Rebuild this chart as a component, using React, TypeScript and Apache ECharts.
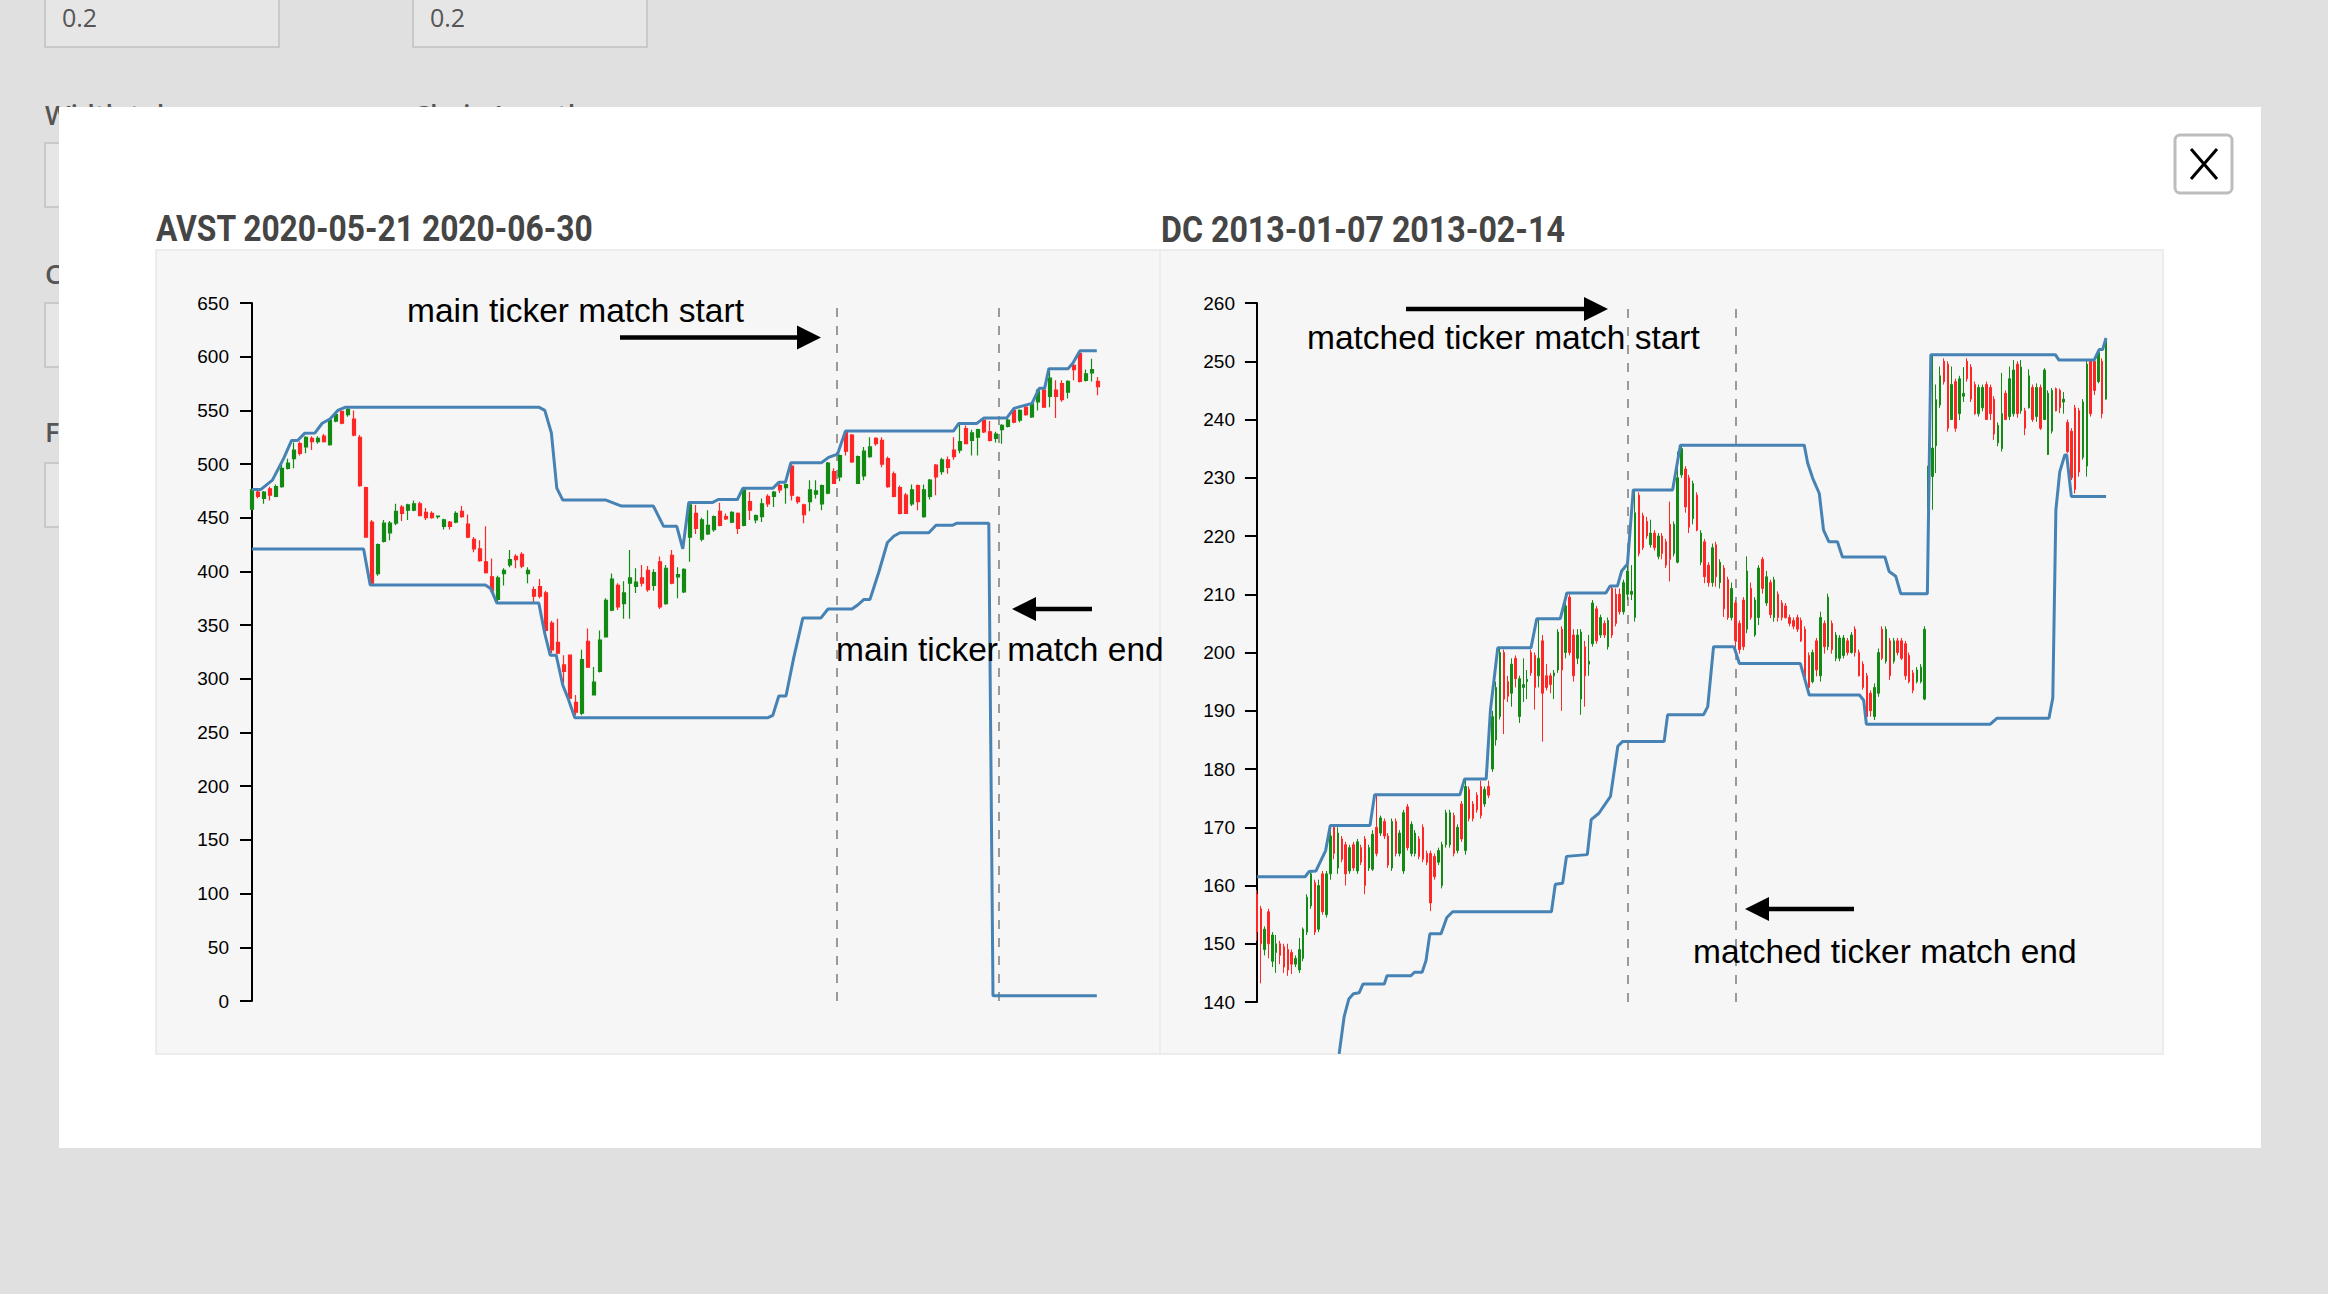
import { useEffect, useRef } from 'react';
import * as echarts from 'echarts';

// AVST daily candles: [open, close, low, high]
const avstCandles: number[][] = [
  [458, 476, 457, 477], [474, 470, 468, 476], [468, 474, 463, 475], [477, 471, 466, 479],
  [470, 479, 469, 481], [479, 496, 478, 501], [496, 501, 495, 505], [505, 513, 496, 520],
  [519, 510, 508, 521], [516, 525, 510, 526], [524, 521, 513, 526], [521, 524, 519, 526],
  [526, 521, 520, 528], [518, 541, 517, 543], [540, 546, 539, 549], [549, 538, 537, 550],
  [546, 551, 544, 553], [542, 527, 526, 550], [525, 480, 479, 527], [478, 432, 432, 479],
  [446, 389, 388, 448], [398, 425, 396, 426], [428, 445, 427, 448], [436, 445, 429, 447],
  [445, 456, 443, 463], [460, 454, 447, 462], [457, 462, 448, 463], [457, 463, 456, 466],
  [463, 452, 452, 465], [455, 450, 448, 459], [454, 450, 449, 456], [451, 451.5, 449, 452],
  [442, 448, 439, 449], [446, 442, 439, 447], [446, 454, 445, 456], [456, 451, 450, 461],
  [444, 432, 431, 453], [430, 421, 418, 432], [421, 410, 409, 429], [409, 399, 398, 442],
  [395, 382, 380, 412], [374, 394, 370, 396], [398, 401, 387, 403], [406, 411, 404, 420],
  [414, 411, 403, 416], [416, 405, 403, 418], [398, 401, 389, 404], [383, 377, 370, 386],
  [386, 377, 375, 393], [380, 345, 341, 382], [352, 327, 324, 354], [334, 324, 323, 356],
  [313, 307, 296, 322], [322, 282, 281, 322], [278, 269, 266, 285], [268, 318, 266, 327],
  [335, 311, 310, 347], [285, 297, 285, 311], [307, 336, 306, 345], [339, 373, 339, 375],
  [364, 393, 363, 398], [387, 367, 364, 389], [370, 380, 356, 391], [389, 394, 356, 420],
  [386, 390, 380, 403], [394, 389, 386, 406], [401, 383, 381, 405], [387, 399, 382, 402],
  [409, 367, 365, 414], [370, 403, 369, 406], [415, 389, 388, 420], [395, 397, 375, 404],
  [381, 402, 380, 403], [432, 462, 409, 463], [454, 440, 435, 462], [430, 448, 428, 450],
  [435, 443, 434, 457], [439, 451, 437, 452], [456, 443, 442, 464], [451, 449, 448, 454],
  [446, 455, 445, 456], [454, 440, 435, 455], [443, 476, 442, 477], [465, 457, 448, 474],
  [448, 452, 445, 453], [451, 463, 446, 468], [470, 463, 460, 472], [470, 474, 460, 475],
  [480, 476, 473, 482], [478, 481, 463, 482], [498, 471, 466, 500], [469, 465, 463, 470],
  [462, 453, 445, 463], [465, 476, 456, 485], [472, 475, 468, 485], [463, 480, 457, 481],
  [473, 501, 472, 502], [493, 482, 482, 496], [488, 508, 484, 509], [530, 512, 508, 531],
  [527, 502, 501, 528], [482, 507, 482, 508], [489, 512, 485, 516], [507, 516, 506, 525],
  [524, 519, 517, 525], [522, 500, 497, 525], [505, 479, 478, 507], [491, 470, 469, 493],
  [478, 454, 453, 480], [471, 454, 454, 473], [463, 476, 461, 481], [480, 465, 457, 481],
  [451, 476, 450, 481], [470, 485, 467, 486], [499, 488, 471, 500], [493, 504, 490, 506],
  [504, 497, 491, 507], [513, 507, 504, 525], [513, 521, 510, 538], [533, 519, 519, 536],
  [522, 529, 508, 532], [525, 532, 508, 533], [541, 530, 529, 543], [530, 522, 521, 540],
  [524, 528, 520, 530], [532, 536, 519, 537], [535, 541, 534, 543], [550, 539, 538, 552],
  [541, 550, 539, 551], [553, 546, 545, 555], [544, 556, 543, 557], [558, 569, 550, 570],
  [569, 553, 553, 570], [563, 580, 553, 587], [569, 563, 543, 578], [575, 560, 558, 578],
  [567, 577, 561, 578], [592, 588, 578, 594], [603, 577, 576, 604], [578, 584, 577, 588],
  [585, 588, 577, 598], [577, 572, 564, 581],
];

// channel lines as [candle index, price]
const avstUpper: number[][] = [
  [0, 476.4], [1.5, 476.4], [3.4, 485], [5.3, 505.6], [6.6, 522], [7.6, 522], [8.8, 528.8],
  [10.5, 529], [11.7, 538], [13, 542], [14.3, 550], [15.6, 553], [47.8, 553], [48.8, 550],
  [49.9, 528.9], [50.8, 477.6], [51.8, 466.5], [59, 466.5], [61.6, 460.9], [66.9, 460.9],
  [68.6, 442], [70.8, 442], [71.8, 421], [72.8, 464.3], [76.8, 464.3], [77.7, 467], [80.9, 467],
  [81.8, 477.4], [86.8, 477.4], [87.8, 483], [88.9, 483], [89.8, 501.2], [94.9, 501.2],
  [96.1, 506.2], [97.6, 509.3], [98.9, 530.7], [116.9, 530.7], [117.8, 537.9], [120.8, 537.9],
  [122, 543], [125.8, 543], [127, 551.9], [130, 556.5], [131.2, 570.5], [132.1, 570.5],
  [132.8, 588.8], [136, 588.8], [136.8, 593.8], [138, 605.5], [140.8, 605.5],
];
const avstLower: number[][] = [
  [0, 420.9], [18.6, 420.9], [19.7, 387.3], [38.9, 387.3], [39.8, 384], [40.8, 370.6],
  [47.8, 370.6], [48.8, 342], [49.7, 322], [50.7, 322], [51.8, 294], [52.6, 283], [53.8, 263.8],
  [86, 263.8], [86.8, 266], [87.8, 284], [89, 284], [90.3, 320], [91.8, 356.6], [94.8, 356.6],
  [96, 365], [100, 365], [101, 369], [102, 374], [103, 374], [104.5, 400], [105.9, 427],
  [107, 433], [108, 436], [112.8, 436], [114, 443], [116.7, 443], [117.5, 445], [122.8, 445],
  [123.5, 5], [140.8, 5],
];
const avstMatch = [97.5, 124.5];
const avstTicks = { min: 0, max: 650, step: 50 };

// DC daily candles: [open, close, low, high]
const dcCandles: number[][] = [
  [158.5, 152, 150.5, 159.2], [156, 150, 143.2, 156.5], [149, 152.5, 148, 153], [155.5, 150, 147.5, 156],
  [147, 151.5, 146, 152], [148.5, 150, 145, 151.5], [150, 148, 146.5, 150.5], [149.5, 146, 145, 150],
  [149, 145.5, 144.5, 150], [148.5, 146.5, 144.8, 149], [146.5, 147.5, 146, 148], [145.5, 149, 145, 151],
  [147.5, 152.5, 147, 152.8], [152, 158, 151.5, 158.5], [156.5, 162, 156, 162.4], [160.5, 152, 151.5, 161],
  [152.5, 160, 152, 161], [162, 155.5, 155, 162.5], [155, 162, 154.5, 162.5], [162, 168.5, 161, 170.3],
  [170, 165.5, 164.5, 170.2], [163, 169, 162, 170], [168, 164.5, 164, 168.5], [167, 162, 160, 167.5],
  [162.5, 166.5, 162, 167], [167, 163, 162.5, 167.5], [162.5, 167.5, 162, 168], [166.5, 164, 163.5, 167],
  [168, 160, 158.5, 168.5], [163, 166.5, 162.5, 167], [162.8, 168.8, 162.5, 169.5], [170, 165.5, 165, 175.6],
  [169, 171.6, 168.5, 172], [171, 168.5, 168, 171.5], [168.5, 163.5, 163, 169], [163, 171, 162.5, 171.5],
  [171, 165.5, 165, 171.5], [165.5, 169, 165, 169.5], [162.5, 172.5, 162, 173], [173.5, 166.5, 166, 174],
  [165.5, 170.5, 165, 171], [165.5, 169, 165, 169.5], [168, 165, 164.5, 168.5], [170, 164.5, 164, 170.5],
  [165.5, 164, 163.5, 166], [165.5, 157, 155.6, 166], [165, 161.5, 161, 165.5], [164, 166, 163.5, 166.5],
  [160, 167, 159.5, 167.5], [167, 172.5, 166.5, 173], [167, 172.5, 166.5, 173], [172, 165.5, 165, 172.5],
  [166, 170, 165.5, 170.5], [174, 168, 167.5, 174.5], [166, 177, 165.3, 178.2], [176.5, 171.5, 171, 177],
  [174, 171.5, 171, 174.5], [175.5, 173, 172.5, 176], [177, 172, 171.5, 178], [174, 176.5, 173.5, 177],
  [177, 175.5, 175, 178], [180, 189, 179.5, 190], [185, 194, 184, 195], [189, 200, 188.5, 200.8],
  [200, 192, 186, 200.5], [195, 192.5, 191.5, 196], [193, 198, 190.7, 199], [199, 195.5, 194, 199.5],
  [189, 195.5, 187.9, 196], [194, 194.5, 191.5, 199], [195, 195.4, 192, 197], [200, 196.5, 196, 200.5],
  [199.5, 194, 190.2, 200], [196, 199, 194, 205.8], [202, 193, 184.7, 203], [196, 194, 193.5, 198],
  [196, 194.5, 193, 196.5], [196, 196.5, 192, 197], [197, 203.5, 196.5, 204], [204, 197, 190, 204.5],
  [200, 208, 199, 210.2], [209.5, 200, 199.5, 210], [203, 196, 195, 204], [199, 203, 198, 204],
  [192, 203.5, 189.3, 204], [201, 196, 190.7, 202], [198, 198.5, 196, 203], [201.5, 208.5, 201, 209],
  [207.5, 202, 201.5, 208], [203, 206, 202.5, 206.5], [205, 203, 202.5, 205.5], [201, 205.5, 200.5, 206],
  [211, 203, 202.5, 211.4], [210, 205, 204.5, 211], [210, 207, 206.5, 211], [207, 212, 206.5, 212.5],
  [210, 214, 209, 215.2], [210, 210.5, 209, 215], [206, 224, 205.3, 227.9], [227, 217, 216.5, 227.5],
  [223.5, 218, 217.6, 224], [222.5, 220, 219.5, 223.3], [218.5, 220.5, 218, 222.8], [220.5, 218, 217.5, 221],
  [216.5, 220, 216, 220.5], [220, 217, 216, 220.5], [219, 215, 214.5, 219.5], [222, 216, 212.2, 225.9],
  [217, 222, 216.5, 222.5], [215.5, 230, 215.3, 234.5], [230.5, 235, 230, 235.6], [231.5, 225, 224, 232],
  [230, 221.5, 220.5, 230.5], [223, 229, 222, 229.5], [227, 221, 220.8, 227.5], [215.5, 220.5, 215, 221],
  [219, 213, 211.9, 219.5], [215, 212, 211.3, 215.5], [212, 218, 211.3, 218.7], [218.5, 213, 211.3, 219],
  [212, 215.5, 211, 216], [214.5, 207.5, 206.1, 215], [212.5, 206, 205.6, 213], [206, 211, 205.5, 212],
  [208.5, 202, 200.4, 209], [205, 200.5, 199.8, 205.5], [209, 201, 200.4, 209.5], [204, 214, 203.3, 216.5],
  [211, 206, 205.6, 212], [203, 209, 202.7, 209.5], [206, 214.5, 204.7, 215], [216, 211, 210.1, 216.4],
  [208.5, 213, 208, 214], [212, 206.5, 205.9, 212.5], [206, 212.5, 205.3, 213], [210, 206, 205.3, 210.5],
  [208.5, 206, 205.5, 209], [208, 206, 205.8, 208.5], [206, 205, 204.5, 206.5], [205.5, 204.5, 204, 206],
  [206, 204, 203.5, 206.5], [205.5, 202, 201.8, 206], [204, 195.5, 195, 204.5], [199.5, 194, 193, 200],
  [195, 200, 194.7, 200.5], [202, 197, 195.9, 202.5], [196, 206, 195, 207], [205, 201, 199.8, 205.5],
  [201, 209.5, 200.4, 210.1], [205, 200.5, 199.8, 205.5], [199, 203, 198.5, 203.5], [199, 202.5, 198.5, 203],
  [199.5, 202.5, 199, 203], [202, 200, 199.5, 202.5], [200, 203, 199.8, 203.5], [204, 200, 199.3, 204.5],
  [200, 196, 195.9, 200.5], [198, 194, 193.6, 198.5], [196, 189, 188.1, 196.5], [193, 190, 189, 193.5],
  [189, 194, 188.4, 194.7], [193, 200, 192.4, 200.7], [204, 199, 198.7, 204.5], [198.5, 204, 198.1, 204.5],
  [202, 196, 195.3, 202.5], [198.5, 202, 198.1, 202.5], [202, 200, 199.5, 202.5], [202, 199, 198.7, 202.5],
  [201.5, 196, 195.3, 202], [199.5, 195, 194.7, 200], [196.5, 193.5, 193, 197], [195, 197, 194.7, 197.5],
  [195, 197.5, 194.7, 198], [192, 204, 191.8, 204.5], [224.5, 232, 224.2, 236], [230.2, 235.1, 224.5, 251],
  [235.5, 243.4, 230.8, 246], [242.5, 247.5, 242, 249.1], [250, 246.5, 246, 250.5], [249.5, 238.5, 237.9, 250],
  [240, 246, 239.9, 249.1], [246.5, 238.5, 237.9, 247], [241, 247, 239.9, 247.5], [244, 244.5, 243, 249],
  [250, 247, 246.5, 250.5], [249, 243.5, 243, 249.5], [246, 241, 240.8, 246.5], [241, 245.5, 240.5, 246],
  [242, 245.5, 241.4, 246], [246, 240, 239.9, 246.5], [245.5, 241, 239.9, 246], [243.5, 237.5, 236.5, 244],
  [236, 239, 235.4, 239.5], [235, 241, 234.5, 248], [244.5, 240, 239.9, 245], [240.5, 247, 239.9, 249.1],
  [241, 248.5, 240.5, 250.2], [249.5, 241, 240.3, 250], [241.5, 249, 241, 250.2], [241.5, 238.5, 237.3, 242],
  [242, 247.5, 241.9, 248.6], [245.5, 240, 239.6, 246], [240.5, 245.5, 239.6, 246.2], [245.5, 238.5, 238.2, 246],
  [240, 248.5, 239.9, 248.8], [234, 244.5, 233.9, 245], [238, 245, 237.6, 245.4], [245.3, 241.5, 241.4, 245.5],
  [245, 242, 241.1, 245.3], [243, 243.5, 241, 244.7], [239.5, 234.5, 234.2, 240], [238, 230, 229.6, 238.5],
  [242, 228, 227.3, 242.5], [241.5, 231, 230.2, 242], [233.5, 243, 233.1, 243.5], [232, 249.5, 230.2, 250.2],
  [250, 241, 240.5, 250.2], [250, 245, 244.2, 250.2], [246.5, 251.5, 246.2, 252], [250, 241, 240.2, 250.5],
  [243.5, 253.5, 243.4, 254],
];
const dcUpper: number[][] = [
  [0, 161.5], [12.5, 161.5], [13.5, 162.4], [15.3, 162.5], [16, 163.5], [17.8, 166], [19, 170.3],
  [29.3, 170.3], [30.5, 175.6], [52.6, 175.6], [53.8, 178.3], [59.4, 178.3], [60.5, 190.1],
  [62.4, 200.8], [71, 200.8], [72.5, 205.8], [78.6, 205.8], [80.3, 210.2], [90.4, 210.2],
  [91.5, 211.4], [93.4, 211.4], [94.5, 214], [96, 215.2], [97.5, 227.9], [107.7, 227.9],
  [109.7, 235.6], [141.8, 235.6], [142.7, 232.5], [144, 229.9], [145.7, 227.3], [146.8, 221],
  [148.2, 219], [150.4, 219], [151.7, 216.4], [162.7, 216.4], [163.8, 213.9], [165.5, 213.1],
  [166.8, 210.1], [173.7, 210.1], [174.6, 251.1], [206.9, 251.1], [207.8, 250.2], [216.9, 250.2],
  [218.2, 252], [219.1, 252], [220, 254],
];
const dcLower: number[][] = [
  [21.3, 131.1], [22.6, 137.5], [23.8, 140.5], [25, 141.4], [26.5, 141.6], [27.5, 143.1],
  [33, 143.1], [33.7, 144.5], [39.9, 144.5], [40.8, 145.1], [42.8, 145.1], [43.8, 147.1],
  [44.8, 151.7], [47.7, 151.7], [49.2, 154.5], [50.7, 155.5], [76.3, 155.5], [77.3, 160.2],
  [79.2, 160.4], [80.2, 165], [85.6, 165.3], [86.6, 171.3], [88.6, 172.4], [91.6, 175.3],
  [93.5, 183.9], [94.7, 184.7], [105.5, 184.7], [106.4, 189.3], [115.7, 189.3], [116.8, 190.7],
  [118.3, 201], [123.6, 201], [125, 198.1], [140.8, 198.1], [143.1, 192.7], [156.1, 192.7],
  [157.2, 191.8], [157.9, 187.7], [190, 187.7], [191.7, 188.7], [205.2, 188.7], [206.2, 192.2],
  [207, 224.5], [208, 231], [209.3, 233.9], [209.8, 233.9], [211, 226.8], [220, 226.8],
];
const dcMatch = [96.1, 124.1];
const dcTicks = { min: 140, max: 260, step: 10 };

const avstTitle = 'AVST 2020-05-21 2020-06-30';
const dcTitle = 'DC 2013-01-07 2013-02-14';

const SANS = '"Liberation Sans", Arial, Helvetica, sans-serif';
const TITLE = 'Roboto, "Noto Sans", sans-serif';
const UI = '"Open Sans", Lato, sans-serif';
const UP = '#138a13';
const DOWN = '#ff2626';
const CHANNEL = '#4682b4';

function text(x: number, y: number, t: string, size: number, fill: string, family: string, weight = 'normal', z = 1, scaleX = 1) {
  return {
    type: 'text', x, y, z, scaleX,
    style: {
      text: t, fill, fontSize: size, fontFamily: family, fontWeight: weight,
      align: 'left', verticalAlign: 'middle', textAlign: 'left', textVerticalAlign: 'middle',
    },
  };
}

function rect(x: number, y: number, w: number, h: number, fill: string, stroke?: string, lw = 0, z = 1, r = 0) {
  return {
    type: 'rect', z,
    shape: { x, y, width: w, height: h, r },
    style: { fill, stroke: stroke || 'none', lineWidth: lw },
  };
}

function arrow(tail: number, tip: number, y: number) {
  const dir = tip > tail ? 1 : -1;
  const base = tip - dir * 24;
  return [
    { type: 'line', z: 20, shape: { x1: tail, y1: y, x2: base + dir * 2, y2: y }, style: { stroke: '#000', lineWidth: 4.5 } },
    { type: 'polygon', z: 20, shape: { points: [[base, y - 12], [tip, y], [base, y + 12]] }, style: { fill: '#000' } },
  ];
}

function yAxisFor(gridIndex: number, t: { min: number; max: number; step: number }) {
  return {
    type: 'value', gridIndex, min: t.min, max: t.max, interval: t.step, z: 10,
    axisLine: { show: true, lineStyle: { color: '#000', width: 2 } },
    axisTick: { show: true, length: 12, lineStyle: { color: '#000', width: 2 } },
    axisLabel: { margin: 20, fontSize: 19, color: '#000', fontFamily: SANS },
    splitLine: { show: false },
  };
}

function candleSeries(idx: number, data: number[][], width: number, border: number) {
  return {
    type: 'candlestick', xAxisIndex: idx * 2, yAxisIndex: idx, z: 10,
    data, barWidth: width,
    itemStyle: { color: UP, color0: DOWN, borderColor: UP, borderColor0: DOWN, borderColorDoji: UP, borderWidth: border },
  };
}

function channelSeries(idx: number, data: number[][], match?: number[]) {
  const s: any = {
    type: 'line', xAxisIndex: idx * 2 + 1, yAxisIndex: idx, z: 12, clip: false,
    data, showSymbol: false, symbol: 'none', silent: true,
    lineStyle: { color: CHANNEL, width: 3 },
  };
  if (match) {
    s.markLine = {
      silent: true, symbol: ['none', 'none'], label: { show: false },
      lineStyle: { color: '#9a9a9a', width: 2, type: [9, 9] },
      data: match.map((m) => ({ xAxis: m })),
    };
  }
  return s;
}

export default function App() {
  const ref = useRef<HTMLDivElement>(null);

  useEffect(() => {
    if (!ref.current) return;
    const chart = echarts.init(ref.current, undefined, { renderer: 'svg' });

    const graphic: any[] = [
      // page behind the modal
      rect(45, -6, 234, 53, '#e6e6e6', '#c9c9c9', 2, 1),
      rect(413, -6, 234, 53, '#e6e6e6', '#c9c9c9', 2, 1),
      text(62, 17, '0.2', 25, '#555', UI, 'normal', 2),
      text(430, 17, '0.2', 25, '#555', UI, 'normal', 2),
      text(45, 114, 'Width tolerance', 27, '#555', UI, '600', 2),
      text(413, 114, 'Chain Length', 27, '#555', UI, '600', 2),
      rect(45, 143, 300, 64, '#e6e6e6', '#c9c9c9', 2, 1),
      text(45, 273, 'C', 27, '#555', UI, '600', 2),
      rect(45, 303, 300, 64, '#e6e6e6', '#c9c9c9', 2, 1),
      text(45, 431, 'F', 27, '#555', UI, '600', 2),
      rect(45, 463, 300, 64, '#e6e6e6', '#c9c9c9', 2, 1),
      // modal
      rect(59, 107, 2202, 1041, '#ffffff', undefined, 0, 3),
      rect(2175, 135, 57, 58, '#ffffff', '#bdbdbd', 3, 4, 5),
      { type: 'line', z: 5, shape: { x1: 2191, y1: 149, x2: 2217, y2: 179 }, style: { stroke: '#000', lineWidth: 3 } },
      { type: 'line', z: 5, shape: { x1: 2217, y1: 149, x2: 2191, y2: 179 }, style: { stroke: '#000', lineWidth: 3 } },
      // chart panels and titles
      rect(156, 250, 1004, 804, '#f6f6f6', '#ececec', 2, 4),
      rect(1160, 250, 1003, 804, '#f6f6f6', '#ececec', 2, 4),
      text(156, 229, avstTitle, 36, '#454545', TITLE, 'bold', 5, 0.883),
      text(1161, 229, dcTitle, 36, '#454545', TITLE, 'bold', 5, 0.894),
      // annotations
      text(407, 310, 'main ticker match start', 33.5, '#000', SANS, 'normal', 20),
      ...arrow(620, 821, 337.5),
      text(836, 649, 'main ticker match end', 33.5, '#000', SANS, 'normal', 20),
      ...arrow(1092, 1012, 609),
      text(1307, 337, 'matched ticker match start', 33.5, '#000', SANS, 'normal', 20),
      ...arrow(1406, 1608, 309),
      text(1693, 951, 'matched ticker match end', 33.5, '#000', SANS, 'normal', 20),
      ...arrow(1854, 1745, 909),
    ];

    const option: any = {
      animation: false,
      backgroundColor: '#e0e0e0',
      graphic: { elements: graphic },
      grid: [
        { left: 249, top: 303, width: 852, height: 698 },
        { left: 1255, top: 303, width: 853, height: 699 },
      ],
      xAxis: [
        { type: 'category', gridIndex: 0, show: false, data: avstCandles.map((_, i) => String(i)) },
        { type: 'value', gridIndex: 0, show: false, min: -0.5, max: avstCandles.length - 0.5 },
        { type: 'category', gridIndex: 1, show: false, data: dcCandles.map((_, i) => String(i)) },
        { type: 'value', gridIndex: 1, show: false, min: -0.5, max: dcCandles.length - 0.5 },
      ],
      yAxis: [yAxisFor(0, avstTicks), yAxisFor(1, dcTicks)],
      series: [
        candleSeries(0, avstCandles, 3.4, 1.2),
        channelSeries(0, avstUpper, avstMatch),
        channelSeries(0, avstLower),
        candleSeries(1, dcCandles, 2, 1),
        channelSeries(1, dcUpper, dcMatch),
        channelSeries(1, dcLower),
      ],
    };

    chart.setOption(option);
    return () => chart.dispose();
  }, []);

  return <div ref={ref} style={{ position: 'fixed', left: 0, top: 0, width: 2328, height: 1294 }} />;
}
